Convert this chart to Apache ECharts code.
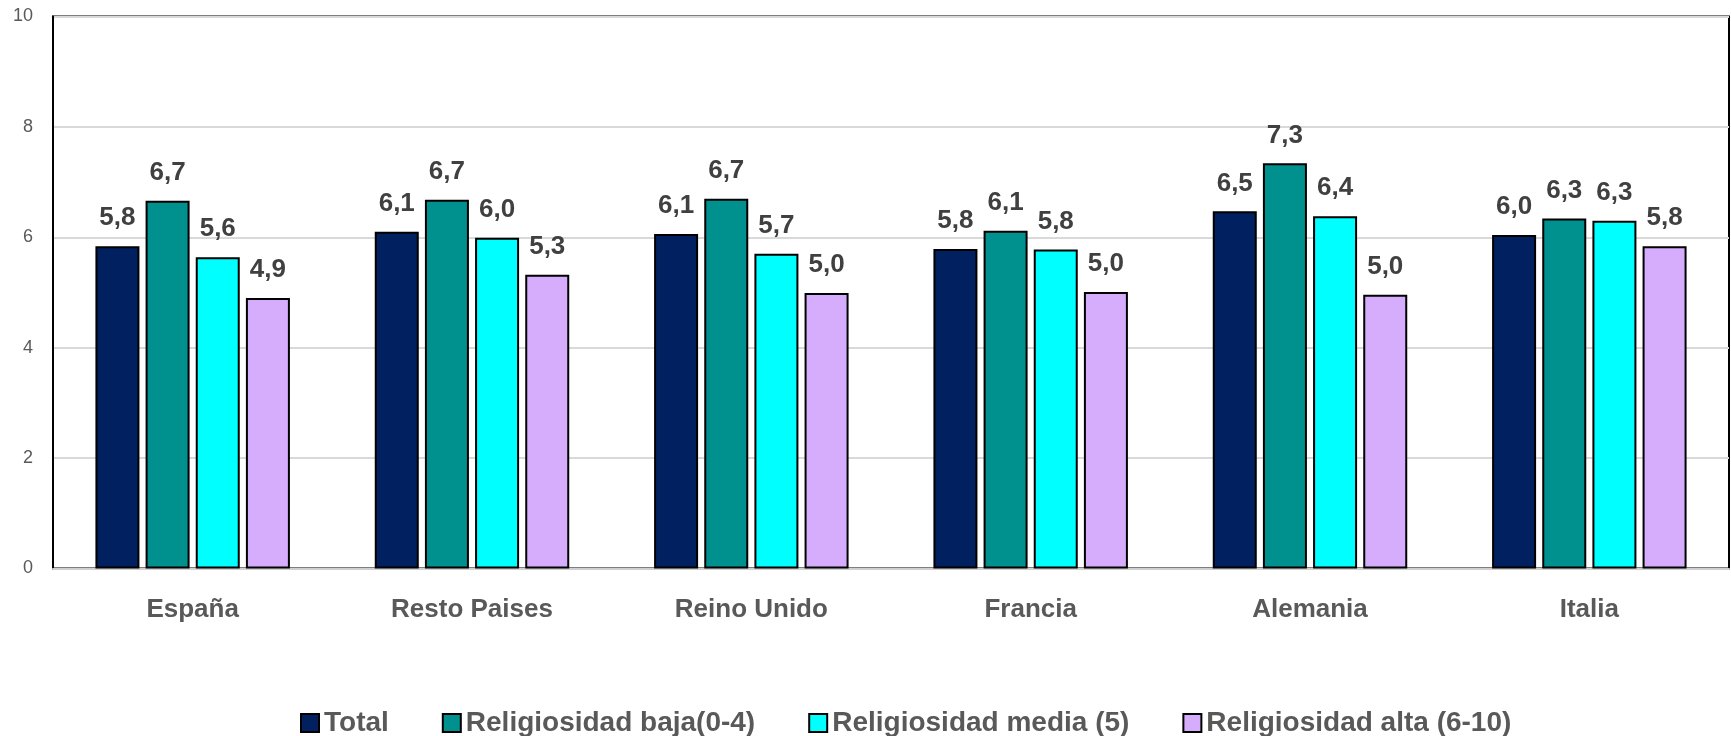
<!DOCTYPE html>
<html>
<head>
<meta charset="utf-8">
<script src="https://cdn.jsdelivr.net/npm/echarts@6/dist/echarts.min.js"></script>
<style>
html,body{margin:0;padding:0;background:#fff;}
#chart{width:1731px;height:736px;}
</style>
</head>
<body>
<div id="chart"></div>
<script>
const categories = ['España', 'Resto Paises', 'Reino Unido', 'Francia', 'Alemania', 'Italia'];
const seriesNames = ['Total', 'Religiosidad baja(0-4)', 'Religiosidad media (5)', 'Religiosidad alta (6-10)'];
const total = [5.84, 6.10, 6.06, 5.79, 6.47, 6.04];
const baja = [6.66, 6.68, 6.70, 6.12, 7.34, 6.34];
const media = [5.64, 5.99, 5.70, 5.78, 6.38, 6.30];
const alta = [4.90, 5.32, 4.99, 5.01, 4.96, 5.84];
const yTicks = [0, 2, 4, 6, 8, 10];

const colors = ['#002060', '#00918F', '#00FFFF', '#D5ADFC'];
const values = [total, baja, media, alta];
const FONT = 'Liberation Sans';

const chart = echarts.init(document.getElementById('chart'), null, {renderer: 'canvas'});
chart.setOption({
  animation: false,
  backgroundColor: '#ffffff',
  grid: {
    left: 53, right: 2, top: 16.5, bottom: 167.5,
    show: true, borderColor: '#000000', borderWidth: 2, backgroundColor: 'transparent'
  },
  legend: {
    left: 295, top: 704,
    itemWidth: 18, itemHeight: 18, itemGap: 53,
    icon: 'rect',
    textStyle: {fontFamily: FONT, fontSize: 28, fontWeight: 'bold', color: '#595959'},
    data: seriesNames
  },
  xAxis: {
    type: 'category',
    data: categories,
    axisLine: {show: true, lineStyle: {color: '#d0d0d0', width: 2}},
    axisTick: {show: false},
    axisLabel: {margin: 28, fontFamily: FONT, fontSize: 26, fontWeight: 'bold', color: '#595959'}
  },
  yAxis: {
    type: 'value',
    min: yTicks[0], max: yTicks[yTicks.length - 1], interval: 2,
    axisLine: {show: true, lineStyle: {color: '#000000', width: 2}},
    axisTick: {show: false},
    splitLine: {show: true, lineStyle: {color: '#d9d9d9', width: 2}},
    axisLabel: {margin: 20, fontFamily: FONT, fontSize: 18, color: '#595959'}
  },
  series: seriesNames.map((name, i) => ({
    name: name,
    type: 'bar',
    data: values[i],
    barWidth: 44,
    barGap: '14%',
    itemStyle: {color: colors[i], borderColor: '#000000', borderWidth: 2},
    label: {
      show: true, position: 'top', distance: 15,
      fontFamily: FONT, fontSize: 26, fontWeight: 'bold', color: '#404040',
      formatter: p => p.value.toFixed(1).replace('.', ',')
    }
  }))
});
</script>
</body>
</html>
